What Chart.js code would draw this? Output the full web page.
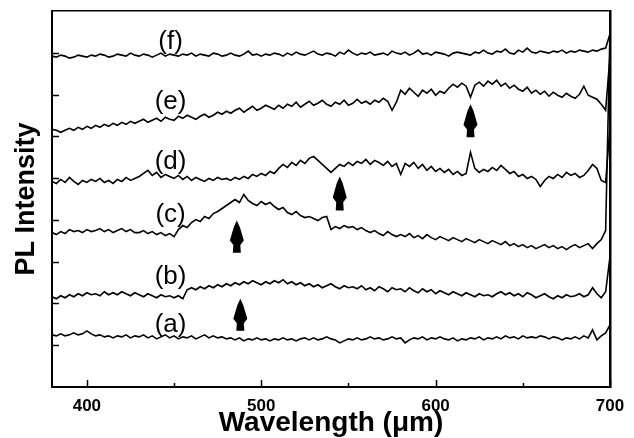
<!DOCTYPE html>
<html><head><meta charset="utf-8">
<script src="https://cdn.jsdelivr.net/npm/chart.js@4.4.1/dist/chart.umd.min.js"></script>
<style>html,body{margin:0;padding:0;background:#fff}#wrap{width:634px;height:438px}</style>
</head><body><div id="wrap"><canvas id="c" width="634" height="438"></canvas></div>
<script>
// Sampling grid (nm): 380..697.5 step 2.5, then 700
const wavelengths = Array.from({length:128},(_, i)=>380+2.5*i).concat([700]);

// PL intensity (a.u., offset-stacked)
const seriesA = [52,51,53,51,52,54,52,53,56,53, 51,52,50,51,49,51,50,52,49,51, 50,52,49,51,48,50,52,49,51,48,
 50,49,51,48,50,52,49,51,49,50, 48,49,47,49,46,48,47,49,47,48, 46,48,47,49,47,48,46,48,49,47,
 49,47,48,50,48,47,44,46,48,47, 49,47,48,50,48,49,47,48,50,48, 49,44,47,49,48,50,47,49,48,50,
 48,47,49,46,48,47,49,48,50,47, 49,48,50,48,51,49,50,48,51,49, 50,49,51,50,48,50,49,47,49,48,
 50,48,51,49,57,47,51,54, 62];
const seriesB = [90,88,91,89,92,90,93,91,94,92, 93,91,95,92,94,92,95,93,91,94, 92,90,93,91,89,92,90,91,89,91,
 88,97,99,97,100,98,101,99,102,100, 103,101,104,102,105,103,106,104,102,105, 103,106,104,107,103,105,102,104,101,103,
 100,102,99,101,103,100,98,101,99,100, 98,101,97,99,96,100,98,95,99,97, 98,95,99,96,94,98,95,97,93,96,
 94,92,95,93,91,94,92,90,93,91, 92,90,93,95,92,94,91,93,90,94, 92,89,91,93,90,88,91,89,92,90,
 91,93,90,92,99,93,89,95, 130];
const seriesC = [154,152,155,153,157,155,156,154,157,155, 156,158,155,157,154,156,158,155,157,154, 154,156,153,155,152,154,151,153,150,157,
 161,159,164,167,165,170,168,173,175,178, 181,184,187,184,192,186,183,181,185,182, 184,180,177,179,174,172,175,171,169,170,
 168,166,169,170,157,160,158,161,159,160, 157,159,156,154,156,153,151,155,152,150, 152,150,153,149,151,148,152,149,147,150,
 148,146,149,147,145,148,146,144,147,145, 143,146,144,142,145,141,143,140,142,139, 141,138,140,142,139,141,138,140,137,140,
 142,139,141,143,138,143,147,156, 355];
const seriesD = [205,203,207,204,209,205,202,206,204,207, 205,208,204,206,203,207,205,209,206,208, 210,213,216,211,214,209,212,210,208,211,
 207,210,206,209,207,205,208,206,209,207, 208,206,209,207,210,208,212,210,213,211, 215,213,218,222,219,224,221,226,223,228,
 230,226,222,218,214,218,222,220,224,221, 225,223,227,222,226,224,221,225,220,223, 212,223,220,224,218,222,216,220,215,218,
 214,217,212,215,211,213,234,218,214,217, 215,219,216,221,217,213,215,210,212,208, 210,207,200,206,210,208,212,209,214,211,
 213,209,211,216,222,218,206,204, 260];
const seriesE = [257,256,254,256,258,256,259,257,260,258, 261,259,262,260,263,261,264,262,265,263, 265,267,264,266,268,265,269,267,266,270,
 268,271,269,267,270,272,269,271,274,272, 275,273,276,278,274,277,280,276,278,281, 279,277,281,278,282,280,284,279,282,285,
 281,283,286,282,280,284,282,286,281,283, 287,283,285,282,286,284,288,285,276,284, 296,292,298,294,290,296,293,297,291,295,
 293,298,302,299,303,300,289,301,304,300, 305,302,306,300,303,298,301,297,295,299, 293,296,292,295,290,294,291,289,293,290,
 288,292,300,291,289,287,282,276, 330];
const seriesF = [330,329,331,330,328,329,331,330,329,331, 330,332,331,329,330,332,331,330,333,331, 330,332,331,329,331,333,330,332,331,330,
 332,331,333,330,332,331,330,333,332,330, 331,333,331,330,332,335,331,332,330,332, 331,333,332,330,333,331,334,332,331,333,
 335,332,331,333,332,330,334,332,336,333, 331,333,332,334,331,332,333,331,335,333, 332,334,331,333,336,332,333,331,334,333,
 332,330,333,334,333,332,331,334,333,336, 333,332,335,334,337,333,332,336,334,338, 334,333,335,334,333,335,334,336,333,335,
 334,336,335,334,336,335,337,338, 352];

const xTicks = [400,450,500,550,600,650,700];
const xMajor = [400,500,600,700];
const yTicks = [41.67,83.33,125,166.67,208.33,250,291.67,333.33];

const curveLabels = ['(a)','(b)','(c)','(d)','(e)','(f)'];
const labelX = [448,448,448,448,448,448];
const labelY = [62,110,172,225,284,344];

const arrowX = [488,486,545,620];
const arrowBase = [56,134,176,249];
const arrowTip = [88,166,210,282];

const FONT = "'Liberation Sans', Arial, sans-serif";
const all = [seriesA,seriesB,seriesC,seriesD,seriesE,seriesF];

const decor = {
  id:'decor',
  afterDatasetsDraw(chart){
    const ctx = chart.ctx, xs = chart.scales.x, ys = chart.scales.y;
    ctx.save();
    // inward ticks
    ctx.strokeStyle='#000'; ctx.lineWidth=1.5;
    xTicks.forEach(v=>{
      const px = Math.round(xs.getPixelForValue(v))+0.5;
      const len = xMajor.includes(v)?7:4;
      ctx.beginPath(); ctx.moveTo(px, ys.bottom); ctx.lineTo(px, ys.bottom-len); ctx.stroke();
    });
    yTicks.forEach((v,i)=>{
      const py = Math.round(ys.getPixelForValue(v))+0.5;
      ctx.beginPath(); ctx.moveTo(xs.left, py); ctx.lineTo(xs.left+7, py); ctx.stroke();
    });
    // labels
    ctx.fillStyle='#000'; ctx.font = "26px "+FONT; ctx.textAlign='center'; ctx.textBaseline='middle';
    curveLabels.forEach((t,i)=>{
      ctx.fillText(t, xs.getPixelForValue(labelX[i]), ys.getPixelForValue(labelY[i]));
    });
    // arrows
    arrowX.forEach((v,i)=>{
      const x = xs.getPixelForValue(v);
      const yt = ys.getPixelForValue(arrowTip[i]);
      const yb = ys.getPixelForValue(arrowBase[i]);
      const L = yb-yt;
      ctx.beginPath();
      ctx.moveTo(x, yt);
      ctx.lineTo(x+3, yt+0.2*L);
      ctx.lineTo(x+7, yt+0.62*L);
      ctx.lineTo(x+3.5, yt+0.76*L);
      ctx.lineTo(x+4, yb);
      ctx.lineTo(x-4, yb);
      ctx.lineTo(x-3.5, yt+0.76*L);
      ctx.lineTo(x-7, yt+0.62*L);
      ctx.lineTo(x-3, yt+0.2*L);
      ctx.closePath(); ctx.fill();
    });
    ctx.restore();
  }
};

new Chart(document.getElementById('c'), {
  type:'line',
  data:{ datasets: all.map(s=>({
    data: wavelengths.map((w,i)=>({x:w,y:s[i]})),
    borderColor:'#000', borderWidth:1.6, pointRadius:0, tension:0, fill:false
  }))},
  options:{
    responsive:false, animation:false, devicePixelRatio:1,
    layout:{padding:0},
    plugins:{legend:{display:false}, tooltip:{enabled:false}},
    scales:{
      x:{type:'linear', position:'bottom', min:380, max:700,
        afterBuildTicks:s=>{s.ticks = xTicks.map(v=>({value:v}));},
        afterFit:s=>{s.height=51;},
        ticks:{autoSkip:false, maxRotation:0, padding:9, color:'#000',
          font:{family:FONT, size:17, weight:'bold'},
          callback:v=> xMajor.includes(v)? String(v) : ''},
        grid:{display:false, drawTicks:false},
        border:{display:true, color:'#000', width:2},
        title:{display:true, text:'Wavelength (\u03bcm)', color:'#000',
          font:{family:FONT, size:28, weight:'bold', lineHeight:1}, padding:{top:0,bottom:1}}
      },
      y:{type:'linear', position:'left', min:0, max:375,
        afterBuildTicks:s=>{s.ticks = yTicks.map(v=>({value:v}));},
        afterFit:s=>{s.width=52;},
        ticks:{display:false},
        grid:{display:false, drawTicks:false},
        border:{display:true, color:'#000', width:2},
        title:{display:true, text:'PL Intensity', color:'#000',
          font:{family:FONT, size:27, weight:'bold', lineHeight:1}, padding:{top:13,bottom:0}}
      },
      xTop:{type:'linear', axis:'x', position:'top', min:380, max:700,
        afterFit:s=>{s.height=11;},
        ticks:{display:false}, grid:{display:false, drawTicks:false},
        border:{display:true, color:'#000', width:1.5}
      },
      yRight:{type:'linear', axis:'y', position:'right', min:0, max:375,
        afterFit:s=>{s.width=24;},
        ticks:{display:false}, grid:{display:false, drawTicks:false},
        border:{display:true, color:'#000', width:2.5}
      }
    }
  },
  plugins:[decor]
});
</script>
</body></html>
